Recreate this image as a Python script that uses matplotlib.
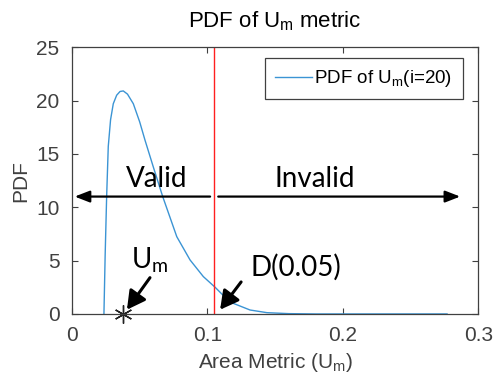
import numpy as np
import matplotlib.pyplot as plt

# valores
um_x = [0.0236, 0.0245, 0.0256, 0.0268, 0.0285, 0.0305, 0.033, 0.0355, 0.0379,
        0.041, 0.0453, 0.050, 0.0539, 0.060, 0.067, 0.0774, 0.0872, 0.097,
        0.1057, 0.112, 0.119, 0.1315, 0.144, 0.16, 0.18, 0.2, 0.277]
um_pdf = [0.0, 5.5, 11.0, 15.7, 18.2, 19.7, 20.5, 20.85, 20.9,
          20.6, 19.7, 18.0, 16.3, 13.8, 11.0, 7.24, 5.06, 3.5,
          2.5, 1.7, 1.0, 0.37, 0.12, 0.03, 0.0, 0.0, 0.0]
um_value = 0.038
d_crit = 0.105
arrow_y = 11.0

gray = '#404040'
plt.rcParams['font.family'] = ['Liberation Sans', 'DejaVu Sans']

fig = plt.figure(figsize=(4.93, 3.90), dpi=100)
ax = fig.add_axes([0.146, 0.195, 0.824, 0.684])

ax.plot(um_x, um_pdf, color='#3b94d4', lw=1.0, label=r'PDF of U$_\mathregular{m}$(i=20)')
ax.axvline(d_crit, color='#ff2020', lw=1.0)
ax.plot([um_value], [0], marker=(6, 2, 0), ms=13, mew=1.0, color='#222222', clip_on=False)

# flechas Valid / Invalid
head = '-|>,head_length=0.9,head_width=0.35'
ax.annotate('', xy=(0.002, arrow_y), xytext=(0.102, arrow_y),
            arrowprops=dict(arrowstyle=head, color='black', lw=1.6, shrinkA=0, shrinkB=0))
ax.annotate('', xy=(0.2867, arrow_y), xytext=(0.108, arrow_y),
            arrowprops=dict(arrowstyle=head, color='black', lw=1.6, shrinkA=0, shrinkB=0))
ax.text(0.0628, 11.4, 'Valid', fontsize=20, family='Lato', ha='center', va='bottom')
ax.text(0.1796, 11.4, 'Invalid', fontsize=20, family='Lato', ha='center', va='bottom')

# anotaciones Um y D(0.05)
ax.text(0.0576, 5.0, r'U$_\mathregular{m}$', fontsize=20, family='Lato', ha='center', va='center')
ax.text(0.165, 4.4, 'D(0.05)', fontsize=20, family='Lato', ha='center', va='center')
head2 = '-|>,head_length=1.1,head_width=0.6'
ax.annotate('', xy=(0.0406, 0.4), xytext=(0.0576, 3.4),
            arrowprops=dict(arrowstyle=head2, color='black', lw=2.2, shrinkA=0, shrinkB=0))
ax.annotate('', xy=(0.1094, 0.4), xytext=(0.1249, 3.0),
            arrowprops=dict(arrowstyle=head2, color='black', lw=2.2, shrinkA=0, shrinkB=0))

ax.set_xlim(0, 0.3)
ax.set_ylim(0, 25)
ax.set_xticks([0, 0.1, 0.2, 0.3])
ax.set_xticklabels(['0', '0.1', '0.2', '0.3'])
ax.set_yticks([0, 5, 10, 15, 20, 25])
ax.tick_params(direction='in', top=True, right=True, labelsize=15, colors=gray, length=4, pad=9)
for s in ax.spines.values():
    s.set_color(gray)
    s.set_linewidth(0.9)

ax.set_xlabel(r'Area Metric (U$_\mathregular{m}$)', fontsize=15, color=gray, labelpad=4)
ax.set_ylabel('PDF', fontsize=15, color=gray, labelpad=4)
ax.set_title(r'PDF of U$_\mathregular{m}$ metric', fontsize=16, color='black', pad=14)

leg = ax.legend(loc='upper right', fontsize=13.5, fancybox=False, framealpha=1,
                edgecolor=gray, handlelength=2.0, handletextpad=0.1, borderpad=0.55,
                borderaxespad=0, bbox_to_anchor=(0.962, 0.96))
leg.get_frame().set_linewidth(0.9)

fig.savefig('out.png', dpi=100)
